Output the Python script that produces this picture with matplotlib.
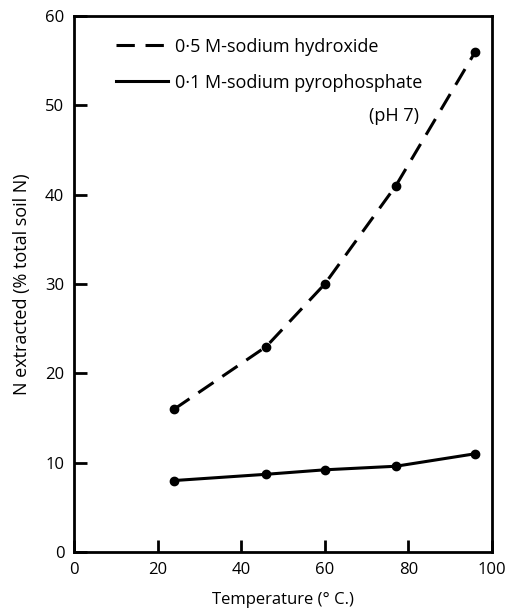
import matplotlib
matplotlib.use("Agg")
import matplotlib.pyplot as plt
from matplotlib.lines import Line2D

temperature = [24, 46, 60, 77, 96]
naoh = [16, 23, 30, 41, 56]
pyro = [8.0, 8.7, 9.2, 9.6, 11.0]
xticks = [0, 20, 40, 60, 80, 100]
yticks = [0, 10, 20, 30, 40, 50, 60]
labels = ['0·5 M-sodium hydroxide', '0·1 M-sodium pyrophosphate']

plt.rcParams['font.family'] = ['Open Sans', 'DejaVu Sans']

fig = plt.figure(figsize=(5.09, 6.11), dpi=100)
ax = fig.add_axes([74/509, 1-552/611, 418/509, 536/611])

ax.plot(temperature, naoh, color='black', lw=2.2, dashes=(6, 3.5),
        marker='o', ms=6)
ax.plot(temperature, pyro, color='black', lw=2.2,
        marker='o', ms=6)

ax.set_xlim(0, 100)
ax.set_ylim(0, 60)
ax.set_xticks(xticks)
ax.set_yticks(yticks)
ax.tick_params(direction='in', length=9, width=2, labelsize=12, top=False, right=False, pad=7)
for s in ax.spines.values():
    s.set_linewidth(2)

ax.set_xlabel('Temperature (° C.)', fontsize=12, labelpad=10)
ax.set_ylabel('N extracted (% total soil N)', fontsize=13, labelpad=10)

handles = [Line2D([], [], color='black', lw=2.2, dashes=(6, 3.5)),
           Line2D([], [], color='black', lw=2.2)]
leg = ax.legend(handles, labels, loc='upper left', bbox_to_anchor=(0.061, 0.99), frameon=False,
                fontsize=13, handlelength=2.9, handletextpad=0.4, labelspacing=1.0)
ax.text(0.825, 0.813, '(pH 7)', transform=ax.transAxes, fontsize=13,
        ha='right', va='center')

fig.savefig('out.png', dpi=100)
